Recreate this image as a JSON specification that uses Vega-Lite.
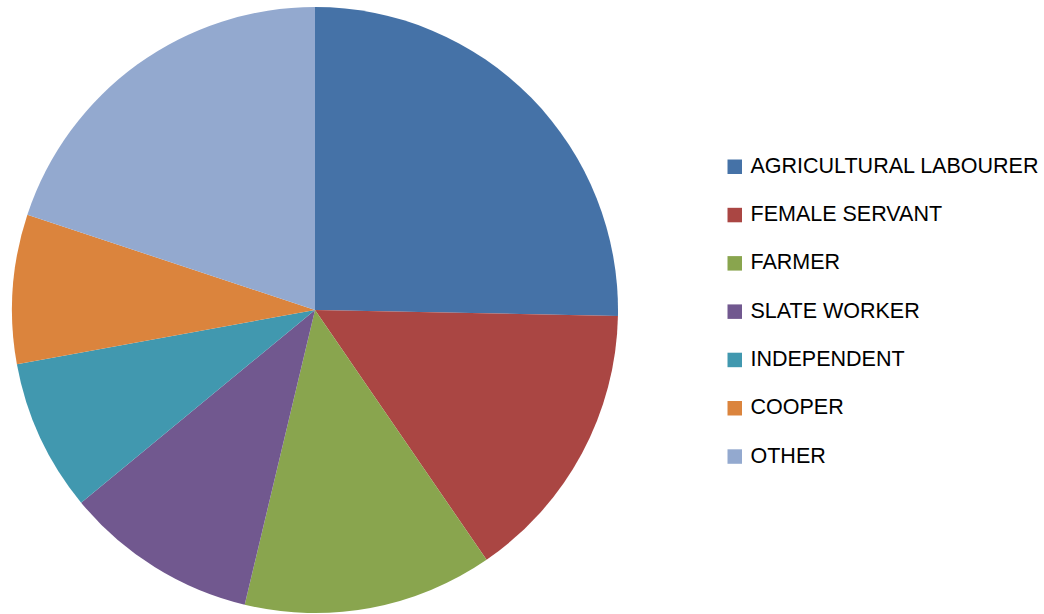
{
  "$schema": "https://vega.github.io/schema/vega-lite/v6.json",
  "width": 630,
  "height": 620,
  "padding": 0,
  "autosize": {"type": "pad"},
  "background": "white",
  "config": {"view": {"stroke": null}},
  "data": {
    "values": [
      {"occupation": "AGRICULTURAL LABOURER", "share": 25.3, "rank": 1},
      {"occupation": "FEMALE SERVANT", "share": 15.1, "rank": 2},
      {"occupation": "FARMER", "share": 13.3, "rank": 3},
      {"occupation": "SLATE WORKER", "share": 10.3, "rank": 4},
      {"occupation": "INDEPENDENT", "share": 8.1, "rank": 5},
      {"occupation": "COOPER", "share": 7.95, "rank": 6},
      {"occupation": "OTHER", "share": 19.9, "rank": 7}
    ]
  },
  "mark": {"type": "arc", "outerRadius": 303, "stroke": null},
  "encoding": {
    "theta": {"field": "share", "type": "quantitative", "stack": true},
    "order": {"field": "rank", "type": "quantitative"},
    "color": {
      "field": "occupation",
      "type": "nominal",
      "scale": {
        "domain": ["AGRICULTURAL LABOURER", "FEMALE SERVANT", "FARMER", "SLATE WORKER", "INDEPENDENT", "COOPER", "OTHER"],
        "range": ["#4572A7", "#AA4643", "#89A54E", "#71588F", "#4198AF", "#DB843D", "#93A9CF"]
      },
      "legend": {
        "title": null,
        "orient": "none",
        "legendX": 724,
        "legendY": 156,
        "symbolType": "square",
        "symbolSize": 210,
        "symbolStrokeWidth": 0,
        "symbolOpacity": 1,
        "labelFont": "Liberation Sans",
        "labelFontSize": 21.5,
        "labelColor": "#000000",
        "labelOffset": 5,
        "labelLimit": 400,
        "rowPadding": 25.3,
        "padding": 0
      }
    }
  }
}
